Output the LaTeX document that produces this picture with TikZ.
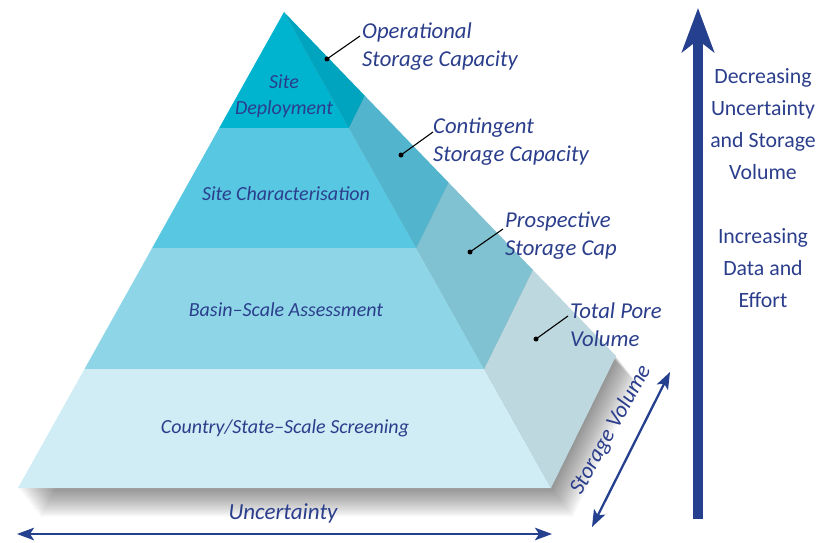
\documentclass[tikz,border=0pt]{standalone}
\usepackage{fontspec}
\setmainfont{Carlito}
\usetikzlibrary{calc,arrows.meta}
\definecolor{txt}{HTML}{2B3E8C}
\definecolor{arr}{HTML}{25408E}
\definecolor{fA}{HTML}{00B4CF}
\definecolor{rA}{HTML}{00A4BE}
\definecolor{fB}{HTML}{58C8E2}
\definecolor{rB}{HTML}{53B5CD}
\definecolor{fC}{HTML}{8ED6E7}
\definecolor{rC}{HTML}{80C2D1}
\definecolor{fD}{HTML}{D0ECF4}
\definecolor{rD}{HTML}{BDD8DF}
\tikzset{
  front/.style={text=txt, font=\fontsize{20}{26}\selectfont\itshape, align=center, inner sep=0pt},
  call/.style={text=txt, font=\fontsize{22.7}{28}\selectfont\itshape, align=left, anchor=west, inner sep=0pt},
  side/.style={text=txt, font=\fontsize{21.8}{32}\selectfont, align=center, inner sep=0pt},
  dotmark/.style={circle, fill=black, inner sep=0pt, minimum size=5pt},
  lead/.style={black, line width=1.1pt},
  thinarrow/.style={arr, line width=2.3pt, {Stealth[length=17pt,width=12.5pt,inset=4pt]}-{Stealth[length=17pt,width=12.5pt,inset=4pt]}}
}
\begin{document}
\begin{tikzpicture}[x=1pt,y=-1pt]
\useasboundingbox (0,0) rectangle (831,543);
% geometry
\coordinate (A) at (284,12);
\coordinate (FL) at (18,488);
\coordinate (FR) at (551,488);
\coordinate (BR) at (616,356);
\foreach \n/\t in {1/0.2437,2/0.496,3/0.75}{
  \coordinate (L\n) at ($(A)!\t!(FL)$);
  \coordinate (R\n) at ($(A)!\t!(FR)$);
  \coordinate (B\n) at ($(A)!\t!(BR)$);
}
% soft shadow
\foreach \k in {1,...,22}{
  \fill[black,opacity=0.024] ([shift={(\k,1.3*\k)}]FL) -- ([shift={(\k,1.3*\k)}]A) -- ([shift={(\k,1.3*\k)}]BR) -- ([shift={(\k,1.3*\k)}]FR) -- cycle;
}
% front faces
\fill[fA] (A) -- (L1) -- (R1) -- cycle;
\fill[fB] (L1) -- (L2) -- (R2) -- (R1) -- cycle;
\fill[fC] (L2) -- (L3) -- (R3) -- (R2) -- cycle;
\fill[fD] (L3) -- (FL) -- (FR) -- (R3) -- cycle;
% right faces
\fill[rA] (A) -- (R1) -- (B1) -- cycle;
\fill[rB] (R1) -- (R2) -- (B2) -- (B1) -- cycle;
\fill[rC] (R2) -- (R3) -- (B3) -- (B2) -- cycle;
\fill[rD] (R3) -- (FR) -- (BR) -- (B3) -- cycle;
% front labels
\node[front] (sd) at (284,96) {Site\\Deployment};
\node[front] (sc) at (286,194) {Site Characterisation};
\node[front] (bs) at (286,310) {Basin--Scale Assessment};
\node[front] (cs) at (285,428) {Country/State--Scale Screening};
% callouts
\node[dotmark] (d1) at (327,59) {};
\node[dotmark] (d2) at (401,155) {};
\node[dotmark] (d3) at (470,252) {};
\node[dotmark] (d4) at (536,339) {};
\coordinate (e1) at (360,36);
\coordinate (e2) at (433,132);
\coordinate (e3) at (503,229);
\coordinate (e4) at (568,316);
\draw[lead] (d1.center) -- (e1);
\draw[lead] (d2.center) -- (e2);
\draw[lead] (d3.center) -- (e3);
\draw[lead] (d4.center) -- (e4);
\node[call] (c1) at (362,47) {Operational\\Storage Capacity};
\node[call] (c2) at (433,142) {Contingent\\Storage Capacity};
\node[call] (c3) at (505,236) {Prospective\\Storage Cap};
\node[call] (c4) at (570,325) {Total Pore\\Volume};
% uncertainty arrow
\coordinate (u1) at (17,534);
\coordinate (u2) at (552,534);
\draw[thinarrow] (u1) -- (u2);
\node[text=txt, font=\fontsize{23}{26}\selectfont\itshape, inner sep=0pt] (unc) at (283,513) {Uncertainty};
% storage volume arrow
\coordinate (s1) at (592,527);
\coordinate (s2) at (670,372);
\draw[thinarrow] (s1) -- (s2);
\node[text=txt, font=\fontsize{22.5}{26}\selectfont\itshape, inner sep=0pt, rotate=61] (sv) at (611,430) {Storage Volume};
% vertical arrow
\coordinate (v1) at (698,519);
\coordinate (v2) at (698,8);
\draw[arr, line width=10.6pt, -{Stealth[length=44pt,width=32pt,inset=12pt]}] (v1) -- (v2);
\node[side] (t1) at (763,124) {Decreasing\\Uncertainty\\and Storage\\Volume};
\node[side] (t2) at (763,268) {Increasing\\Data and\\Effort};
\end{tikzpicture}
\end{document}
